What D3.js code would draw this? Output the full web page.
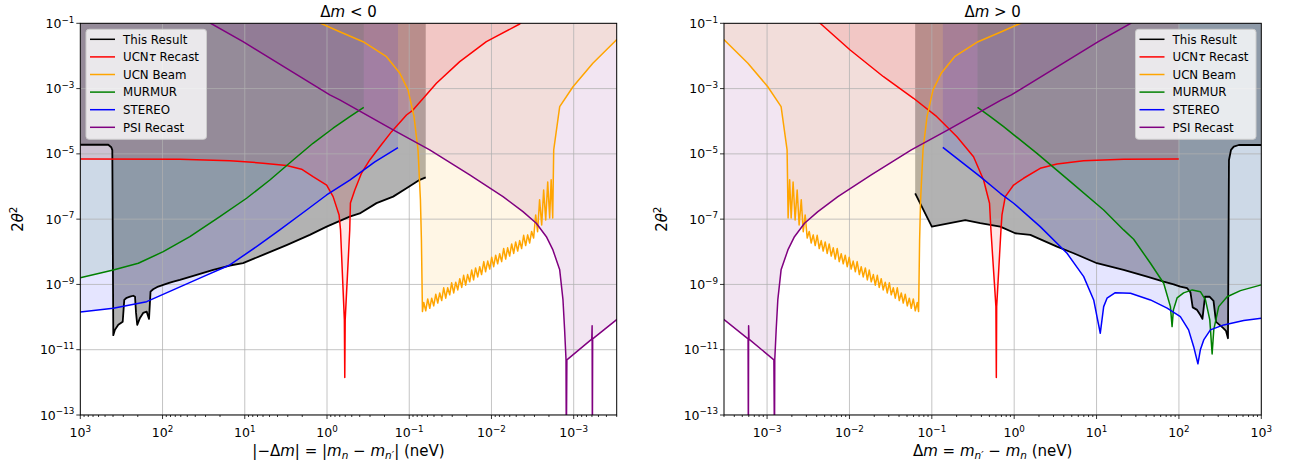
<!DOCTYPE html>
<html>
<head>
<meta charset="utf-8">
<script src="https://cdn.jsdelivr.net/npm/d3@7"></script>
<style>
  body { margin: 0; background: #fff; }
  text { font-family: "DejaVu Sans", sans-serif; white-space: pre; }
</style>
</head>
<body>
<svg id="chart" width="1293" height="467"></svg>
<script>
// ---- data: [delta m (neV), 2 theta^2] ----

// Δm < 0 panel
let thisResultNeg = [
  [1000, 1.9e-5], [457, 1.9e-5], [420, 1.6e-5], [408, 1.3e-5], [397, 2.8e-11], [379, 4.1e-11],
  [345, 5.8e-11], [305, 7.2e-11], [292, 3.35e-10], [273, 3.9e-10], [249, 4.2e-10], [227, 4.5e-10],
  [216, 4.2e-10], [210, 1.34e-10], [203, 5.8e-11], [188, 9.4e-11], [172, 1.34e-10], [156, 1.47e-10],
  [146, 8.8e-11], [140, 6.0e-10], [130, 7.1e-10], [113, 8.6e-10], [98, 9.7e-10], [85, 1.09e-9],
  [74, 1.22e-9], [61.5, 1.37e-9], [38.5, 1.95e-9], [24.2, 2.8e-9], [15.2, 3.8e-9], [10.5, 4.5e-9],
  [6.0, 8.0e-9], [3.1, 1.6e-8], [1.62, 3.3e-8], [1.01, 5.9e-8], [0.53, 1.19e-7], [0.40, 1.5e-7],
  [0.25, 3.1e-7], [0.157, 4.9e-7], [0.108, 8.8e-7], [0.0745, 1.6e-6], [0.063, 1.9e-6]
];
let ucntNeg = [
  [1000, 7.0e-6], [61.5, 6.9e-6], [15.2, 6.2e-6], [6.0, 5.2e-6], [3.1, 4.4e-6], [2.04, 3.4e-6],
  [1.48, 2.0e-6], [1.01, 1.1e-6], [0.843, 4.9e-7], [0.713, 1.35e-7], [0.685, 4.7e-8], [0.615, 8.2e-11],
  [0.608, 1.4e-12], [0.601, 8.2e-11], [0.529, 4.7e-8], [0.519, 3.1e-7], [0.459, 7.8e-7], [0.381, 2.55e-6],
  [0.302, 6.5e-6], [0.228, 1.66e-5], [0.164, 4.8e-5], [0.108, 1.55e-4], [0.090, 2.2e-4], [0.0467, 1.45e-3],
  [0.0243, 6.7e-3], [0.01153, 0.0273], [0.00454, 0.095], [0.004, 0.13]
];
let murmurNeg = [
  [1000, 1.61e-9], [397, 2.78e-9], [197, 4.46e-9], [98, 1.01e-8], [46.5, 2.91e-8], [20.1, 1.19e-7],
  [9.5, 4.37e-7], [4.95, 1.58e-6], [2.58, 6.5e-6], [1.48, 2.11e-5], [0.843, 6.1e-5], [0.528, 1.38e-4],
  [0.357, 2.67e-4]
];
let stereoNeg = [
  [1000, 1.44e-10], [397, 1.87e-10], [156, 2.97e-10], [74.1, 6.8e-10], [32.0, 1.73e-9], [15.2, 3.95e-9],
  [7.19, 1.44e-8], [3.75, 4.68e-8], [1.77, 1.91e-7], [1.01, 5.5e-7], [0.528, 1.58e-6], [0.262, 5.65e-6],
  [0.137, 1.55e-5]
];

// Δm > 0 panel
let thisResultPos = [
  [0.0628, 6.2e-7], [0.100, 5.9e-8], [0.255, 9.4e-8], [0.387, 7.5e-8], [0.678, 5.9e-8], [1.03, 3.7e-8],
  [1.57, 3.3e-8], [3.31, 1.44e-8], [5.27, 9.0e-9], [10.1, 4.46e-9], [21.3, 2.78e-9], [41.1, 1.73e-9],
  [65.3, 1.22e-9], [86.4, 1.01e-9], [104, 8.6e-10], [126, 7.65e-10], [138, 5.7e-10], [147, 1.98e-10],
  [166, 1.66e-10], [182, 1.16e-10], [193, 8.8e-11], [207, 4.2e-10], [235, 4.2e-10], [263, 3.13e-10],
  [282, 7.1e-11], [311, 5.75e-11], [343, 4.66e-11], [373, 3.77e-11], [394, 2.25e-11], [405, 6.5e-6],
  [429, 1.32e-5], [463, 1.66e-5], [533, 1.87e-5], [1000, 1.87e-5]
];
let ucntPos = [
  [0.00417, 0.11], [0.0044, 0.1], [0.0102, 0.0152], [0.0259, 2.31e-3], [0.060, 5.05e-4], [0.115, 1.38e-4],
  [0.202, 3.36e-5], [0.321, 8.2e-6], [0.425, 1.58e-6], [0.502, 3.07e-7], [0.522, 4.68e-8], [0.600, 2.09e-10],
  [0.607, 1.4e-12], [0.613, 2.09e-10], [0.691, 4.68e-8], [0.711, 1.35e-7], [0.780, 4.89e-7], [0.984, 1.11e-6],
  [1.30, 1.79e-6], [2.07, 3.62e-6], [3.31, 4.91e-6], [6.97, 6.2e-6], [21.3, 6.84e-6], [99.6, 6.98e-6]
];
let murmurPos = [
  [0.359, 2.67e-4], [0.513, 1.38e-4], [0.744, 6.8e-5], [1.89, 1.04e-5], [4.81, 1.41e-6], [12.2, 1.91e-7],
  [21.3, 4.68e-8], [28.2, 2.42e-8], [45.1, 4.46e-9], [65.3, 1.09e-9], [78.8, 2.09e-10], [82.6, 5.1e-11],
  [85.7, 1.66e-10], [95.0, 3.86e-10], [114, 5.5e-10], [145, 6.8e-10], [182, 6.0e-10], [210, 3.35e-10],
  [237, 8.2e-11], [253, 7.4e-12], [265, 4.1e-11], [304, 2.09e-10], [385, 4.2e-10], [558, 6.46e-10],
  [1000, 9.7e-10]
];
let stereoPos = [
  [0.136, 1.59e-5], [0.387, 2.0e-6], [0.678, 6.2e-7], [0.984, 3.07e-7], [2.07, 5.9e-8], [4.38, 9.0e-9],
  [6.98, 1.73e-9], [9.23, 3.35e-10], [10.3, 8.2e-11], [11.1, 3.2e-11], [12.2, 2.09e-10], [13.4, 3.78e-10],
  [16.9, 5.6e-10], [25.8, 5.4e-10], [45.1, 3.35e-10], [71.9, 1.87e-10], [104, 1.03e-10], [131, 4.05e-11],
  [151, 1.24e-11], [170, 3.7e-12], [182, 9.9e-12], [200, 2.0e-11], [241, 4.05e-11], [350, 5.75e-11],
  [612, 7.8e-11], [1000, 9.2e-11]
];

// these two look the same on both sides
let ucnBeam = [
  [1.25, 0.105], [0.700, 0.0553], [0.364, 0.0273], [0.189, 9.5e-3], [0.130, 2.94e-3], [0.1035, 9.1e-4],
  [0.0875, 1.38e-4], [0.0782, 1.32e-5], [0.0731, 3.9e-7], [0.0711, 2.3e-8], [0.0691, 1.47e-10],
  [0.0666, 2.8e-10], [0.0630, 1.55e-10], [0.0596, 3.6e-10], [0.0563, 1.86e-10], [0.0533, 3.8e-10],
  [0.0504, 2.2e-10], [0.0476, 5.0e-10], [0.0450, 2.7e-10], [0.0426, 5.5e-10], [0.0403, 3.2e-10],
  [0.0381, 7.9e-10], [0.0360, 3.8e-10], [0.0341, 7.9e-10], [0.0322, 4.8e-10], [0.0305, 1.12e-9],
  [0.0288, 5.5e-10], [0.0272, 1.17e-9], [0.0257, 6.8e-10], [0.0243, 1.5e-9], [0.0230, 8.1e-10],
  [0.0218, 1.9e-9], [0.0206, 9.5e-10], [0.0195, 2.0e-9], [0.0184, 1.2e-9], [0.0174, 2.75e-9],
  [0.0165, 1.38e-9], [0.0156, 3.2e-9], [0.0147, 1.7e-9], [0.0139, 3.5e-9], [0.0132, 2.0e-9],
  [0.0124, 5.0e-9], [0.0118, 2.45e-9], [0.0111, 5.2e-9], [0.0105, 2.95e-9], [0.00994, 6.8e-9],
  [0.00940, 3.5e-9], [0.00889, 7.9e-9], [0.00841, 4.3e-9], [0.00795, 8.7e-9], [0.00752, 5.0e-9],
  [0.00711, 1.26e-8], [0.00672, 6.0e-9], [0.00636, 1.32e-8], [0.00601, 7.4e-9], [0.00568, 1.74e-8],
  [0.00537, 8.9e-9], [0.00508, 2.0e-8], [0.00480, 1.05e-8], [0.00454, 2.2e-8], [0.00430, 1.26e-8],
  [0.00406, 3.2e-8], [0.00384, 1.55e-8], [0.00363, 3.3e-8], [0.00343, 1.86e-8], [0.00325, 4.2e-8],
  [0.00307, 2.65e-8], [0.00290, 1.35e-7], [0.00275, 4.1e-8], [0.00260, 3.9e-7], [0.00245, 6.6e-8],
  [0.00232, 7.8e-7], [0.00219, 9.4e-8], [0.00207, 1.38e-6], [0.00196, 1.09e-7], [0.00188, 1.6e-6],
  [0.00180, 1.09e-7], [0.00175, 1.32e-5], [0.00148, 2.79e-4], [0.00102, 1.14e-3], [5.85e-4, 5.96e-3],
  [3.03e-4, 0.0308], [2.8e-4, 0.035]
];
let psiRecast = [
  [35, 0.19], [26, 0.1], [10.5, 0.0273], [0.925, 6.4e-4], [0.700, 4.5e-4], [0.157, 5.4e-5],
  [0.0564, 1.32e-5], [0.0184, 2.26e-6], [7.24e-3, 4.9e-7], [4.14e-3, 1.7e-7], [2.85e-3, 7.5e-8],
  [2.15e-3, 2.9e-8], [1.79e-3, 1.14e-8], [1.48e-3, 2.8e-9], [1.35e-3, 3.35e-10], [1.29e-3, 4.1e-11],
  [1.24e-3, 4.9e-12], [1.23e-3, 1e-14], [1.21e-3, 4.9e-12], [6.03e-4, 2.1e-11], [5.97e-4, 5.4e-11],
  [5.93e-4, 1e-14], [5.88e-4, 2.14e-11], [3.03e-4, 8.2e-11], [2.8e-4, 9.5e-11]
];

let seriesNames = ['This Result', 'UCNτ Recast', 'UCN Beam', 'MURMUR', 'STEREO', 'PSI Recast'];
let seriesColors = ['black', 'red', 'orange', 'green', 'blue', 'purple'];
let yTicks = [1e-1, 1e-3, 1e-5, 1e-7, 1e-9, 1e-11, 1e-13];
let xTicks = [1e-3, 1e-2, 1e-1, 1e0, 1e1, 1e2, 1e3];

let svg = d3.select('#chart');
let TOP = 1; // fills go up past the top of the axes
let yTop = 23.3, yBot = 415;

// text with italic / sub / superscript pieces
let rich = (sel, parts, size) => {
  let shift = 0;
  parts.forEach((p) => {
    let target = p.sub ? size * 0.22 : p.sup ? -size * 0.42 : 0;
    sel.append('tspan')
      .attr('dy', target - shift)
      .attr('font-size', p.sub || p.sup ? size * 0.7 : size)
      .attr('font-style', p.it ? 'italic' : null)
      .text(p.t);
    shift = target;
  });
  return sel;
};

let expLabel = (v) => {
  let e = Math.round(Math.log10(v));
  return [{ t: '10' }, { t: (e < 0 ? '\u2212' : '') + Math.abs(e), sup: true }];
};

let drawPanel = (p) => {
  let x = d3.scaleLog().domain(p.domain).range([p.x0, p.x1]);
  let y = d3.scaleLog().domain([1e-13, 1e-1]).range([yBot, yTop]);

  svg.append('clipPath').attr('id', 'clip-' + p.id)
    .append('rect')
    .attr('x', p.x0).attr('y', yTop)
    .attr('width', p.x1 - p.x0).attr('height', yBot - yTop);

  let plot = svg.append('g').attr('clip-path', 'url(#clip-' + p.id + ')');

  let area = d3.area().x((d) => x(d[0])).y0(y(TOP)).y1((d) => y(d[1]));
  let line = d3.line().x((d) => x(d[0])).y((d) => y(d[1]));

  // exclusion fills
  p.series.forEach((s, i) => {
    plot.append('path')
      .attr('d', area(s))
      .attr('fill', seriesColors[i])
      .attr('fill-opacity', i === 0 ? 0.3 : 0.1);
  });

  // grid
  xTicks.forEach((t) => {
    plot.append('line')
      .attr('x1', x(t)).attr('x2', x(t)).attr('y1', yTop).attr('y2', yBot)
      .attr('stroke', '#b0b0b0').attr('stroke-opacity', 0.75).attr('stroke-width', 1);
  });
  yTicks.forEach((t) => {
    plot.append('line')
      .attr('x1', p.x0).attr('x2', p.x1).attr('y1', y(t)).attr('y2', y(t))
      .attr('stroke', '#b0b0b0').attr('stroke-opacity', 0.75).attr('stroke-width', 1);
  });

  // curves
  p.series.forEach((s, i) => {
    plot.append('path')
      .attr('d', line(s))
      .attr('fill', 'none')
      .attr('stroke', seriesColors[i])
      .attr('stroke-width', i === 0 ? 1.8 : 1.5)
      .attr('stroke-linejoin', 'round');
  });

  // frame
  svg.append('rect')
    .attr('x', p.x0).attr('y', yTop)
    .attr('width', p.x1 - p.x0).attr('height', yBot - yTop)
    .attr('fill', 'none').attr('stroke', 'black').attr('stroke-width', 1);

  // x ticks
  let lo = Math.floor(Math.log10(Math.min(...p.domain)));
  let hi = Math.ceil(Math.log10(Math.max(...p.domain)));
  for (let k = lo; k <= hi; k++) {
    for (let m = 1; m <= 9; m++) {
      let v = m * Math.pow(10, k);
      let px = x(v);
      if (px < Math.min(p.x0, p.x1) - 0.5 || px > Math.max(p.x0, p.x1) + 0.5) continue;
      svg.append('line')
        .attr('x1', px).attr('x2', px).attr('y1', yBot).attr('y2', yBot + (m === 1 ? 4 : 2))
        .attr('stroke', 'black').attr('stroke-width', 0.8);
    }
  }
  xTicks.forEach((t) => {
    rich(svg.append('text').attr('x', x(t)).attr('y', 437).attr('text-anchor', 'middle'), expLabel(t), 12.5);
  });

  // y ticks
  yTicks.forEach((t) => {
    svg.append('line')
      .attr('x1', p.x0 - 4).attr('x2', p.x0).attr('y1', y(t)).attr('y2', y(t))
      .attr('stroke', 'black').attr('stroke-width', 0.8);
    rich(svg.append('text').attr('x', p.x0 - 6).attr('y', y(t) + 4.5).attr('text-anchor', 'end'), expLabel(t), 12.5);
  });

  // titles and labels
  rich(svg.append('text').attr('x', (p.x0 + p.x1) / 2).attr('y', 16.5).attr('text-anchor', 'middle'), p.title, 15);
  rich(svg.append('text').attr('x', (p.x0 + p.x1) / 2).attr('y', 456).attr('text-anchor', 'middle'), p.xlabel, 15);
  rich(
    svg.append('text').attr('text-anchor', 'middle')
      .attr('transform', 'translate(' + (p.x0 - 57) + ',' + (yTop + yBot) / 2 + ') rotate(-90)'),
    [{ t: '2' }, { t: 'θ', it: true }, { t: '2', sup: true }], 15
  );

  // legend
  let lg = svg.append('g').attr('transform', 'translate(' + p.legendX + ',29.3)');
  lg.append('rect')
    .attr('width', 120.5).attr('height', 110).attr('rx', 3)
    .attr('fill', 'white').attr('fill-opacity', 0.8)
    .attr('stroke', '#cccccc').attr('stroke-width', 1);
  seriesNames.forEach((name, i) => {
    let ly = 10 + i * 17.6;
    lg.append('line')
      .attr('x1', 4).attr('x2', 29).attr('y1', ly).attr('y2', ly)
      .attr('stroke', seriesColors[i]).attr('stroke-width', 1.5);
    let parts = name === 'UCNτ Recast'
      ? [{ t: 'UCN' }, { t: 'τ', it: true }, { t: ' Recast' }]
      : [{ t: name }];
    rich(lg.append('text').attr('x', 37).attr('y', ly + 4.3), parts, 11.8);
  });
};

drawPanel({
  id: 'neg',
  x0: 80.3, x1: 616.7,
  domain: [1e3, 3e-4],
  legendX: 86,
  series: [thisResultNeg, ucntNeg, ucnBeam, murmurNeg, stereoNeg, psiRecast],
  title: [{ t: 'Δ' }, { t: 'm', it: true }, { t: ' < 0' }],
  xlabel: [
    { t: '|\u2212Δ' }, { t: 'm', it: true }, { t: '| = |' }, { t: 'm', it: true }, { t: 'n', it: true, sub: true },
    { t: ' \u2212 ' }, { t: 'm', it: true }, { t: 'n\u2032', it: true, sub: true }, { t: '| (neV)' }
  ]
});

drawPanel({
  id: 'pos',
  x0: 724, x1: 1261.3,
  domain: [3e-4, 1e3],
  legendX: 1135.5,
  series: [thisResultPos, ucntPos, ucnBeam, murmurPos, stereoPos, psiRecast],
  title: [{ t: 'Δ' }, { t: 'm', it: true }, { t: ' > 0' }],
  xlabel: [
    { t: 'Δ' }, { t: 'm', it: true }, { t: ' = ' }, { t: 'm', it: true }, { t: 'n\u2032', it: true, sub: true },
    { t: ' \u2212 ' }, { t: 'm', it: true }, { t: 'n', it: true, sub: true }, { t: ' (neV)' }
  ]
});
</script>
</body>
</html>
